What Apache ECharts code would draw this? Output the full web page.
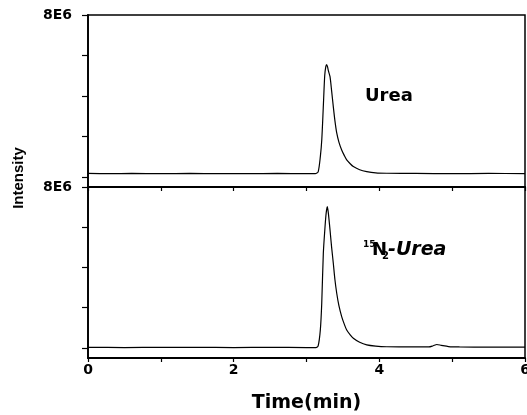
<!DOCTYPE html>
<html>
<head>
<meta charset="utf-8">
<script src="https://cdn.jsdelivr.net/npm/echarts@6/dist/echarts.min.js"></script>
<style>html,body{margin:0;padding:0;background:#fff}#c{width:527px;height:415px}</style>
</head>
<body>
<div id="c"></div>
<script>
// Time axis (min)
const ureaTime = [0,0.3,0.6,1.0,1.4,1.8,2.2,2.6,3.0,3.12,3.16,3.19,3.21,3.23,3.25,3.265,3.277,3.29,3.30,3.323,3.345,3.368,3.39,3.415,3.445,3.483,3.52,3.552,3.6,3.643,3.73,3.827,3.95,4.1,4.5,5.0,5.5,6.0];
// Urea intensity (x1E6)
const ureaValue = [0.17,0.16,0.17,0.16,0.17,0.16,0.16,0.17,0.16,0.16,0.25,1.0,1.85,3.4,5.0,5.45,5.55,5.42,5.25,4.95,4.25,3.47,2.78,2.17,1.72,1.33,1.05,0.84,0.65,0.51,0.35,0.26,0.2,0.18,0.17,0.16,0.17,0.16];
const labTime = [0,0.5,1.0,1.5,2.0,2.5,3.0,3.13,3.16,3.19,3.209,3.231,3.254,3.27,3.286,3.30,3.323,3.345,3.368,3.39,3.415,3.445,3.483,3.52,3.552,3.6,3.643,3.73,3.827,3.95,4.1,4.5,4.68,4.74,4.79,4.85,4.95,5.1,5.5,6.0];
// 15N2-Urea intensity (x1E6)
const labValue = [0.03,0.02,0.03,0.03,0.02,0.03,0.02,0.02,0.1,0.9,2.2,4.7,6.0,6.7,7.02,6.7,5.86,5.0,4.21,3.4,2.72,2.1,1.56,1.17,0.89,0.65,0.48,0.28,0.15,0.09,0.06,0.05,0.05,0.11,0.17,0.13,0.07,0.05,0.04,0.04];
const xTicks = [0,1,2,3,4,5,6];
const xTickLabels = [0,2,4,6];
const yTicks = [0,2e6,4e6,6e6,8e6];
const yTickLabels = [8e6];
const yLabelText = '8E6';

const FONT = 'DejaVu Sans';
const toPairs = (t, v) => t.map((x, i) => [x, v[i] * 1e6]);

function xAxis(gi, showLabels) {
  return {
    type: 'value', gridIndex: gi, min: 0, max: 6,
    axisLine: {show: true, onZero: false, lineStyle: {color: '#000', width: 1.8}},
    axisTick: {show: true, inside: false, length: 4, customValues: xTicks, lineStyle: {color: '#000', width: 1.2}},
    axisLabel: showLabels ? {show: true, customValues: xTickLabels, margin: 5, color: '#000', fontFamily: FONT, fontWeight: 'bold', fontSize: 14, hideOverlap: false} : {show: false},
    splitLine: {show: false},
    name: showLabels ? 'Time(min)' : '',
    nameLocation: 'middle', nameGap: 36,
    nameTextStyle: {color: '#000', fontFamily: FONT, fontWeight: 'bold', fontSize: 19}
  };
}
function yAxis(gi) {
  return {
    type: 'value', gridIndex: gi, min: -0.5e6, max: 8e6,
    axisLine: {show: true, onZero: false, lineStyle: {color: '#000', width: 1.8}},
    axisTick: {show: true, inside: false, length: 6, customValues: yTicks, lineStyle: {color: '#000', width: 1.2}},
    axisLabel: {show: true, customValues: yTickLabels, formatter: () => yLabelText, margin: 16, color: '#000', fontFamily: FONT, fontWeight: 'bold', fontSize: 14},
    splitLine: {show: false}
  };
}

const chart = echarts.init(document.getElementById('c'), null, {renderer: 'canvas'});
chart.setOption({
  animation: false,
  backgroundColor: '#fff',
  grid: [
    {left: 88, top: 15, width: 437, height: 172, show: true, borderColor: '#000', borderWidth: 1.5, backgroundColor: 'transparent', containLabel: false, outerBoundsMode: 'none'},
    {left: 88, top: 187, width: 437, height: 171, show: true, borderColor: '#000', borderWidth: 1.5, backgroundColor: 'transparent', containLabel: false, outerBoundsMode: 'none'}
  ],
  xAxis: [xAxis(0, false), xAxis(1, true)],
  yAxis: [yAxis(0), yAxis(1)],
  series: [
    {type: 'line', xAxisIndex: 0, yAxisIndex: 0, data: toPairs(ureaTime, ureaValue), showSymbol: false, smooth: 0.25, lineStyle: {color: '#000', width: 1.2}},
    {type: 'line', xAxisIndex: 1, yAxisIndex: 1, data: toPairs(labTime, labValue), showSymbol: false, smooth: 0.25, lineStyle: {color: '#000', width: 1.2}}
  ],
  graphic: [
    {type: 'text', x: 19, y: 178, rotation: Math.PI / 2, style: {text: 'Intensity', fill: '#000', fontFamily: 'Liberation Sans', fontWeight: 'bold', fontSize: 15, align: 'center', verticalAlign: 'middle'}},
    {type: 'text', x: 365, y: 96, style: {text: 'Urea', fill: '#000', fontFamily: FONT, fontWeight: 'bold', fontSize: 18, align: 'left', verticalAlign: 'middle'}},
    {type: 'text', x: 363, y: 245, style: {text: '15', fill: '#000', fontFamily: FONT, fontWeight: 'bold', fontSize: 9, align: 'left', verticalAlign: 'middle'}},
    {type: 'text', x: 372, y: 250, style: {text: 'N', fill: '#000', fontFamily: FONT, fontWeight: 'bold', fontSize: 18, align: 'left', verticalAlign: 'middle'}},
    {type: 'text', x: 382, y: 256, style: {text: '2', fill: '#000', fontFamily: FONT, fontWeight: 'bold', fontSize: 10, align: 'left', verticalAlign: 'middle'}},
    {type: 'text', x: 388, y: 250, style: {text: '-Urea', fill: '#000', fontFamily: FONT, fontWeight: 'bold', fontStyle: 'italic', fontSize: 19, align: 'left', verticalAlign: 'middle'}}
  ]
});
</script>
</body>
</html>
